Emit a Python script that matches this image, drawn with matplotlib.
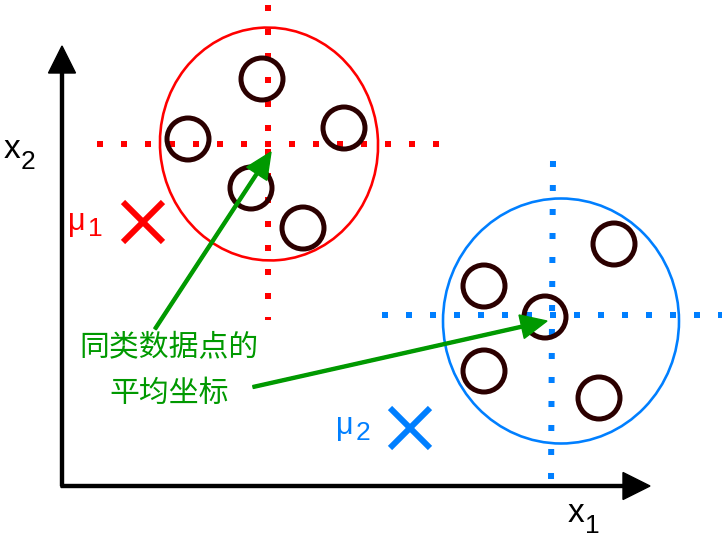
import matplotlib
matplotlib.use("Agg")
import matplotlib.pyplot as plt
from matplotlib.patches import Ellipse

plt.rcParams['font.family'] = ['Liberation Sans', 'Noto Sans CJK SC', 'DejaVu Sans']

# pixel-space coordinates (y grows downward)
red_x = [262, 188, 344, 251, 303]
red_y = [79, 139, 128, 188, 228]
blue_x = [614, 484, 545, 484, 599]
blue_y = [244, 286, 317, 371, 398]

red_center = (269, 144)
red_size = (218, 233)
blue_center = (561, 321)
blue_size = (236, 245)

mu_x = [143, 410]
mu_y = [222, 428]

RED = '#ff0000'
BLUE = '#007fff'
GREEN = '#009900'
DARK = '#2b0000'

px = 72 / 100  # points per pixel at dpi 100

fig = plt.figure(figsize=(7.22, 5.42), dpi=100)
ax = fig.add_axes([0, 0, 1, 1])
ax.set_xlim(0, 722)
ax.set_ylim(542, 0)
ax.axis('off')

# axes arrows
ax.arrow(62, 486, 0, -440, width=3, head_width=27, head_length=27,
         length_includes_head=True, color='black')
ax.arrow(61, 486, 589, 0, width=3, head_width=27, head_length=27,
         length_includes_head=True, color='black')

dots = dict(lw=6 * px, dashes=(1, 3), dash_capstyle='butt')
# red dotted cross lines
ax.plot([268, 268], [5, 320], color=RED, **dots)
ax.plot([97, 445], [144, 144], color=RED, **dots)
# blue dotted cross lines
ax.plot([553, 551], [161, 480], color=BLUE, **dots)
ax.plot([382, 722], [315, 315], color=BLUE, **dots)

# cluster outlines
ax.add_patch(Ellipse(red_center, red_size[0], red_size[1], angle=-5,
                     fill=False, ec=RED, lw=2.6 * px))
ax.add_patch(Ellipse(blue_center, blue_size[0], blue_size[1],
                     fill=False, ec=BLUE, lw=2.6 * px))

# data points
ax.scatter(red_x, red_y, s=(42 * px) ** 2, facecolors='none',
           edgecolors=DARK, linewidths=5 * px, zorder=3)
ax.scatter(blue_x, blue_y, s=(42 * px) ** 2, facecolors='none',
           edgecolors=DARK, linewidths=5 * px, zorder=3)

# centroids
ax.scatter(mu_x, mu_y, s=(40 * px) ** 2, marker='x', c=[RED, BLUE],
           linewidths=6 * px, zorder=3)

# green arrows
ax.arrow(155, 329, 116, -177, width=3, head_width=24, head_length=26,
         length_includes_head=True, color=GREEN, zorder=4)
ax.arrow(253, 387, 294, -66, width=3, head_width=24, head_length=26,
         length_includes_head=True, color=GREEN, zorder=4)

ax.text(169, 348, '同类数据点的', color=GREEN, fontsize=21.5,
        ha='center', va='center', family=['Noto Sans CJK SC'])
ax.text(169, 393, '平均坐标', color=GREEN, fontsize=21.5,
        ha='center', va='center', family=['Noto Sans CJK SC'])

# labels
ax.text(4, 149, 'x', fontsize=24, ha='left', va='center')
ax.text(21, 162, '2', fontsize=19, ha='left', va='center')
ax.text(568, 513, 'x', fontsize=24, ha='left', va='center')
ax.text(585, 526, '1', fontsize=19, ha='left', va='center')

ax.text(68, 222, 'μ', fontsize=22, color=RED, ha='left', va='center')
ax.text(88, 229, '1', fontsize=19, color=RED, ha='left', va='center')
ax.text(336, 426, 'μ', fontsize=22, color=BLUE, ha='left', va='center')
ax.text(356, 433, '2', fontsize=19, color=BLUE, ha='left', va='center')

fig.savefig('out.png', dpi=100)
